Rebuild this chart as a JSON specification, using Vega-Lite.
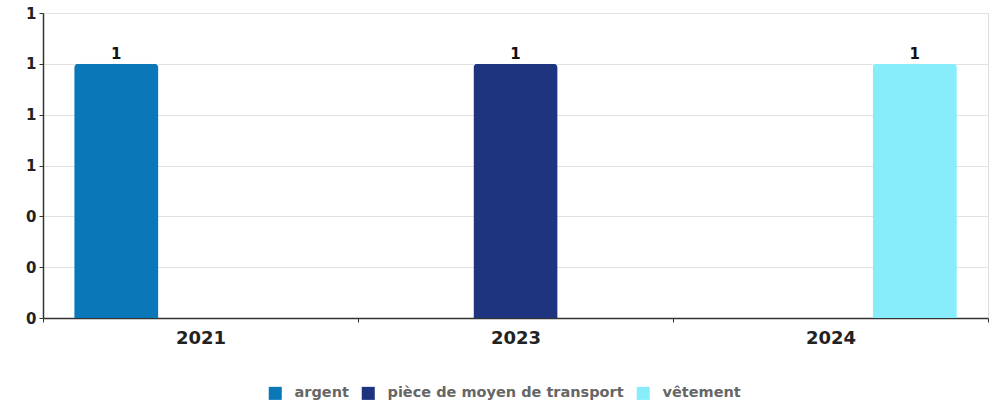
{
  "$schema": "https://vega.github.io/schema/vega-lite/v6.json",
  "width": 945,
  "height": 305,
  "autosize": "none",
  "padding": {"left": 43, "top": 13, "right": 10, "bottom": 88},
  "background": "white",
  "data": {
    "values": [
      {"year": "2021", "category": "argent", "value": 1},
      {"year": "2023", "category": "pièce de moyen de transport", "value": 1},
      {"year": "2024", "category": "vêtement", "value": 1}
    ]
  },
  "encoding": {
    "x": {
      "field": "year", "type": "nominal",
      "scale": {"paddingInner": 0, "paddingOuter": 0},
      "axis": {
        "title": null, "labelAngle": 0, "labelFont": "DejaVu Sans", "labelFontWeight": "bold",
        "labelFontSize": 18, "labelColor": "#222222", "labelPadding": 7,
        "tickBand": "extent", "tickSize": 4, "tickColor": "#333333", "domainColor": "#333333", "domainWidth": 1.5
      }
    },
    "xOffset": {
      "field": "category", "type": "nominal",
      "sort": ["argent", "pièce de moyen de transport", "vêtement"],
      "scale": {"domain": ["argent", "pièce de moyen de transport", "vêtement"], "paddingInner": 0, "paddingOuter": 0.37}
    },
    "y": {
      "field": "value", "type": "quantitative",
      "scale": {"domain": [0, 1.2], "nice": false},
      "axis": {
        "title": null, "values": [0, 0.2, 0.4, 0.6, 0.8, 1.0, 1.2], "format": ".0f",
        "labelFont": "DejaVu Sans", "labelFontWeight": "bold", "labelFontSize": 15, "labelColor": "#222222",
        "tickSize": 4, "tickColor": "#333333", "domainColor": "#333333", "domainWidth": 1.5,
        "gridColor": "#e3e3e3", "labelPadding": 3
      }
    }
  },
  "layer": [
    {
      "mark": {"type": "bar", "cornerRadiusTopLeft": 4, "cornerRadiusTopRight": 4},
      "encoding": {
        "color": {
          "field": "category", "type": "nominal",
          "scale": {"domain": ["argent", "pièce de moyen de transport", "vêtement"], "range": ["#0a78b8", "#1f347f", "#87edfb"]},
          "legend": {
            "title": null, "orient": "none", "legendX": 225, "legendY": 373, "direction": "horizontal",
            "symbolType": "square", "symbolSize": 170, "symbolStrokeWidth": 0,
            "labelFont": "DejaVu Sans", "labelFontWeight": "bold", "labelFontSize": 14.5, "labelColor": "#666666",
            "labelLimit": 0, "columnPadding": 12, "labelOffset": 12
          }
        }
      }
    },
    {
      "mark": {"type": "text", "dy": -10, "font": "DejaVu Sans", "fontWeight": "bold", "fontSize": 15, "color": "#111111"},
      "encoding": {"text": {"field": "value", "type": "quantitative", "format": ".0f"}}
    }
  ]
}
